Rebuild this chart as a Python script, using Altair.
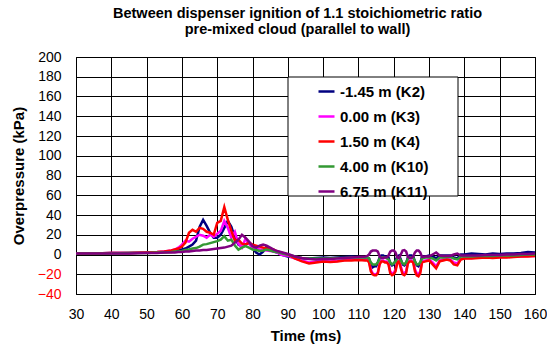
import altair as alt
import pandas as pd

# ---- data -------------------------------------------------------------
time_ms = ([30, 35, 40, 45, 50, 53, 55, 57, 58, 59]
           + list(range(60, 91))
           + [92, 94, 96, 98, 100, 102, 104, 106, 108, 110, 112]
           + [112.5, 113, 113.5, 114, 114.5, 115, 115.5, 116, 116.5, 117, 117.5, 118,
              118.5, 119, 119.5, 120, 120.5, 121, 121.5, 122, 122.5, 123, 123.5, 124,
              124.5, 125, 125.5, 126, 126.5, 127, 127.5, 128]
           + list(range(129, 141))
           + [142, 144, 146, 148, 150, 152, 154, 156, 158, 160])

series_names = ["-1.45 m (K2)", "0.00 m (K3)", "1.50 m (K4)", "4.00 m (K10)", "6.75 m (K11)"]
series_colors = ["#000080", "#FF00FF", "#FF0000", "#339933", "#800080"]

k2 = ([1, 1, 1.5, 1.5, 2, 2, 2.5, 3, 3.5, 4]
      + [5, 6, 8, 10, 14, 28, 35, 29, 22, 17, 17, 20, 27, 34, 28, 17, 10, 8, 10, 12, 7, 2, 0, 3, 8, 5, 3, 2, 0, -1, -2]
      + [-3, -4, -4, -3.5, -3, -3.5, -3, -2.5, -2, -2.5, -3]
      + [-3, -4, -10, -13, -12, -12, -8, -3, -1, -1, -2, -2, -3, -9, -11, -10, -6, -2, -1, -5, -10, -11, -9, -3,
         -1, -1, -2, -7, -11, -12, -9, -2]
      + [-2, -1, -2, -4, -1, -1, -1, -1, -3, -4, 0, 0]
      + [1, 0.5, 0, 1, 0.5, 1, 1, 1.5, 2.5, 2])

k3 = ([1, 1, 1.5, 1.5, 2, 2.5, 3, 4, 5, 7]
      + [10, 14, 13, 16, 18, 20, 19, 17, 20, 18, 21, 24, 34, 27, 17, 23, 11, 7, 16, 11, 7, 6, 5, 5, 4, 3.5, 3, 2, 0, -1, -1]
      + [-4, -6, -8, -7, -6.5, -7, -6.5, -5.5, -5, -5, -5.5]
      + [-5, -7, -15, -19, -20, -20, -18, -9, -6, -6, -7, -7, -9, -17, -19, -19, -15, -7, -6, -12, -18, -19, -17, -8,
         -6, -6, -7, -15, -19, -20, -17, -7]
      + [-6, -5, -8, -12, -6, -5, -4.5, -5, -8, -9, -4.5, -3.5]
      + [-3.5, -3, -3, -3, -2.5, -2.5, -2, -2, -1.5, -1.5])

k4 = ([1, 1, 1.5, 1.5, 2, 2.5, 3, 4, 5, 6]
      + [8, 12, 22, 25, 23, 27, 26, 23, 22, 20, 32, 34, 48, 35, 24, 14, 15, 11, 10, 12, 10, 9, 8, 7, 6, 5, 5, 3, 2, 1, 0]
      + [-4, -7, -9, -8, -7, -7.5, -7, -6, -6, -5.5, -6]
      + [-6, -8, -17, -20, -21, -21, -19, -10, -7, -7, -8, -8, -10, -19, -21, -20, -17, -8, -7, -14, -20, -21, -19, -9,
         -7, -7, -8, -17, -21, -22, -19, -8]
      + [-7, -6, -10, -14, -7, -6, -5, -6, -10, -11, -5, -4]
      + [-4, -3.5, -3, -3.5, -3, -3, -2.5, -2, -2, -1.5])

k10 = ([1, 1, 1, 1.5, 1.5, 2, 2, 2.5, 3, 3]
       + [3.5, 4.5, 5, 6, 6.5, 8, 10, 10.5, 11.5, 12.5, 13.5, 15, 18.5, 14, 15, 9, 5, 7, 8.5, 7, 5, 4.5, 3.5, 4, 5, 4, 3, 2.5, 1.5, 0.5, 0]
       + [-2, -3.5, -4, -4, -4, -4, -3.5, -3.5, -3, -3, -3]
       + [-3, -4, -8, -10, -10, -10, -8, -4, -3, -3, -3, -4, -5, -8, -10, -9, -7, -4, -3, -6, -9, -10, -8, -4,
          -3, -3, -3, -7, -10, -10, -8, -4]
       + [-3, -3, -4, -6, -3, -3, -2.5, -2.5, -4, -5, -2, -2]
       + [-2, -1.5, -1.5, -1.5, -1, -1, -1, -0.5, 0, 0])

k11 = ([1, 1, 1, 1, 1.5, 1.5, 2, 2, 2, 2.5]
       + [2.5, 3, 3, 3.5, 4, 4, 4.5, 4.5, 5, 5.5, 6, 6.5, 7, 8, 9, 12, 15, 20, 17, 13, 8.5, 7, 9, 10, 9, 7, 5, 3.5, 2.5, 1.5, 0.5]
       + [-2, -3.5, -4.5, -5, -4.5, -4.5, -4, -3.5, -3, -2.5, -2]
       + [-1.5, 0, 3, 4, 4, 4, 3, -2, -3.5, -3.5, -3, -3, -1, 3, 4, 4, 2, -3, -3.5, 0, 4, 4.5, 3, -2.5,
          -3.5, -3.5, -2, 2, 4, 4, 2, -2.5]
       + [-2, -2, 0, 2, -1, -1.5, -1.5, -1.5, 0, 1, -1, -1]
       + [-1, -1, -0.5, -0.5, -0.5, 0, 0, 0.5, 0.5, 1])

x_ticks = list(range(30, 161, 10))
y_ticks = list(range(-40, 201, 20))

title_lines = ["Between dispenser ignition of 1.1 stoichiometric ratio",
               "pre-mixed cloud (parallel to wall)"]

# ---- build long table --------------------------------------------------
rows = []
for name, vals in zip(series_names, [k2, k3, k4, k10, k11]):
    for t, v in zip(time_ms, vals):
        rows.append({"Time": t, "Overpressure": v, "Series": name})
df = pd.DataFrame(rows)

FONT = "Liberation Sans"

lines = alt.Chart(df).mark_line(strokeWidth=2.5, clip=True).encode(
    x=alt.X("Time:Q",
            scale=alt.Scale(domain=[30, 160], nice=False, zero=False),
            axis=alt.Axis(values=x_ticks, title="Time (ms)", ticks=False, domain=False,
                          labelPadding=13, titlePadding=7, labelFontSize=14,
                          labelFlush=False, labelOverlap=False,
                          titleFontSize=15, titleFontWeight="bold",
                          gridColor="#000000", gridOpacity=1, gridWidth=1)),
    y=alt.Y("Overpressure:Q",
            scale=alt.Scale(domain=[-40, 200], nice=False, zero=False),
            axis=alt.Axis(values=y_ticks, title="Overpressure (kPa)", ticks=False, domain=False,
                          labelPadding=15, titlePadding=11, labelFontSize=14,
                          labelFlush=False, labelOverlap=False,
                          titleFontSize=15, titleFontWeight="bold",
                          labelColor={"condition": {"test": "datum.value < 0", "value": "#FF0000"},
                                      "value": "#000000"},
                          gridColor="#000000", gridOpacity=1, gridWidth=1)),
    color=alt.Color("Series:N",
                    scale=alt.Scale(domain=series_names, range=series_colors),
                    legend=alt.Legend(title=None, orient="none", legendX=241, legendY=25,
                                      symbolType="stroke", symbolSize=256, symbolStrokeWidth=2.5,
                                      labelFontSize=15, labelFontWeight="bold", labelFont=FONT,
                                      labelOffset=4, rowPadding=7, padding=0)),
)

legend_box = alt.Chart(pd.DataFrame({"k": [0]})).mark_rect(
    fill="white", stroke="black", strokeWidth=1
).encode(x=alt.value(212), x2=alt.value(382), y=alt.value(20), y2=alt.value(139))

chart = alt.layer(lines, legend_box).properties(
    width=459, height=237,
    title=alt.TitleParams(text=title_lines, fontSize=14.5, fontWeight="bold", font=FONT,
                          anchor="middle", dx=-8, offset=13, lineHeight=16),
    autosize=alt.AutoSizeParams(type="none"),
    padding={"left": 76, "top": 57, "right": 12, "bottom": 57},
).configure(
    background="white",
    font=FONT,
).configure_axis(
    labelFont=FONT, titleFont=FONT, labelColor="#000000", titleColor="#000000",
).configure_view(
    stroke="#000000", strokeWidth=1,
)

chart.save("out.html", embed_options={"renderer": "svg", "actions": False})
